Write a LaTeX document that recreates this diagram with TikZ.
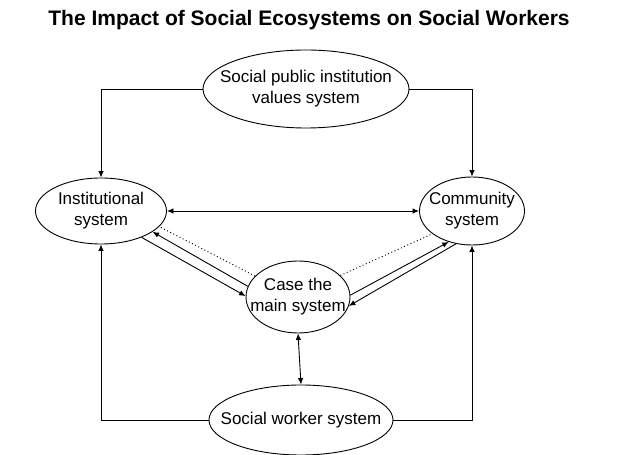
\documentclass[tikz,border=0pt]{standalone}
\usepackage{fontspec}
\setmainfont{Liberation Sans}
\usepackage{tikz}
\usetikzlibrary{shapes.geometric,arrows.meta}

\begin{document}
\begin{tikzpicture}[x=1pt,y=1pt,
  sys/.style={draw, ellipse, line width=0.9pt, inner sep=0pt},
  lbl/.style={font=\fontsize{17}{21}\selectfont, align=center},
  link/.style={line width=0.9pt, -{Latex[length=6.5pt,width=5.5pt]}},
  both/.style={line width=0.9pt, {Latex[length=6.5pt,width=5.5pt]}-{Latex[length=6.5pt,width=5.5pt]}},
  weak/.style={line width=0.9pt, dash pattern=on 1pt off 2.5pt}]
  \useasboundingbox (0,0) rectangle (621,455);

  \node[font=\bfseries\fontsize{21}{25}\selectfont] (title) at (309,435) {The Impact of Social Ecosystems on Social Workers};

  % the five systems
  \node[sys, minimum width=206pt, minimum height=78pt,
        label={[lbl]center:Social public institution\\values system}] (values) at (306,366) {};
  \node[sys, minimum width=131pt, minimum height=66pt,
        label={[lbl]center:Institutional\\system}] (inst) at (101,244) {};
  \node[sys, minimum width=105pt, minimum height=68pt,
        label={[lbl]center:Community\\system}] (comm) at (472,244) {};
  \node[sys, minimum width=104pt, minimum height=72pt,
        label={[lbl]center:Case the\\main system}] (case) at (298,158) {};
  \node[sys, minimum width=184pt, minimum height=70pt,
        label={[lbl]center:Social worker system}] (worker) at (301,35) {};

  % connectors
  \draw[link] (values.west) -| (inst.north);
  \draw[link] (values.east) -| (comm.north);
  \draw[both] (inst.east) -- (comm.west);
  \draw[link] (worker.west) -| (inst.south);
  \draw[link] (worker.east) -| (comm.south);
  \draw[both] (case.south) -- (worker.north);

  \draw[link] (inst.-33) -- (case.179);
  \draw[link] (case.168) -- (inst.-22);
  \draw[weak] (case.154) -- (inst.-15);
  \draw[link] (case.2) -- (comm.-127);
  \draw[link] (comm.-116) -- (case.-10);
  \draw[weak] (case.27) -- (comm.-150);
\end{tikzpicture}
\end{document}
